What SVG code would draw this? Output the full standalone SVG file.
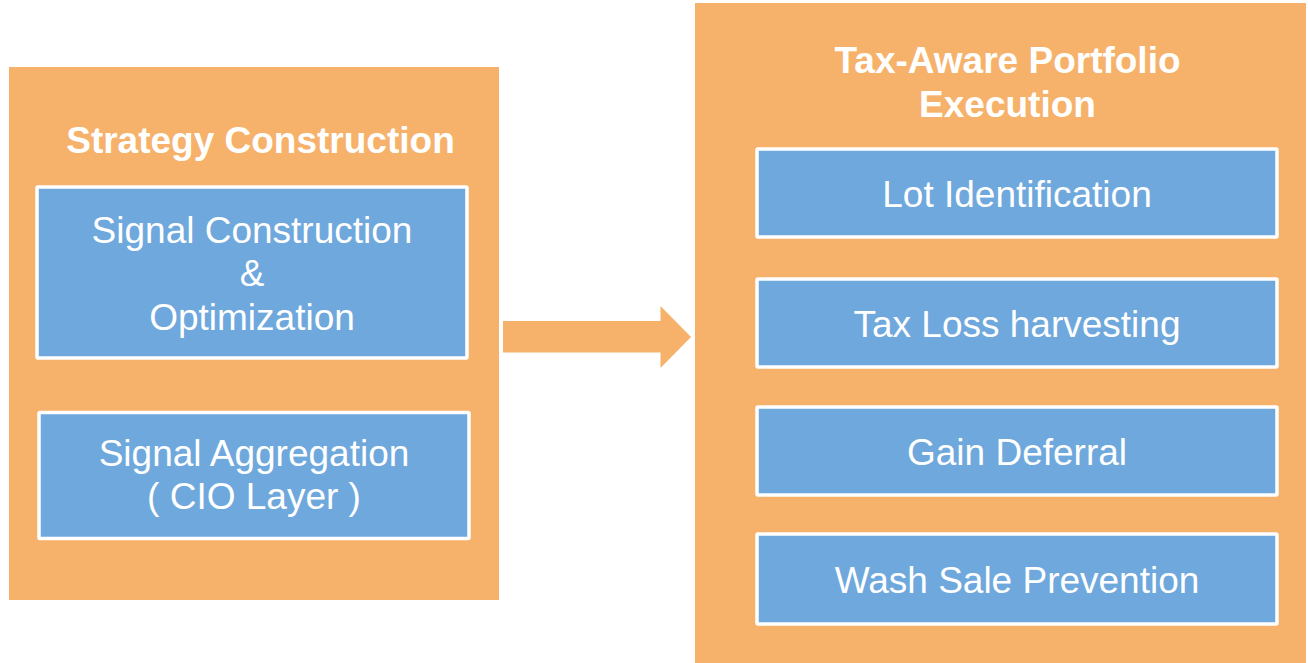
<svg xmlns="http://www.w3.org/2000/svg" width="1308" height="663" viewBox="0 0 1308 663">
  <style>
    .panel { fill: #F6B26B; }
    .box { fill: #6FA8DC; stroke: #FFFFFF; stroke-width: 3.5; }
    .title { font-family: "Liberation Sans", Arial, sans-serif; font-weight: bold; font-size: 37px; fill: #FFFFFF; text-anchor: middle; }
    .label { font-family: "Liberation Sans", Arial, sans-serif; font-size: 37px; fill: #FFFFFF; text-anchor: middle; }
    .arrow { fill: #F6B26B; }
  </style>
  <rect x="0" y="0" width="1308" height="663" fill="#FFFFFF"/>

  <g id="strategy-construction">
    <rect class="panel" x="9" y="67" width="490" height="533"/>
    <text class="title" x="260.5" y="153">Strategy Construction</text>
  </g>

  <g id="signal-construction">
    <rect class="box" x="37" y="187" width="430" height="171" rx="1"/>
    <text class="label" x="252" y="242.5">Signal Construction</text>
    <text class="label" x="252" y="286">&amp;</text>
    <text class="label" x="252" y="330">Optimization</text>
  </g>

  <g id="signal-aggregation">
    <rect class="box" x="39" y="412.5" width="430" height="126" rx="1"/>
    <text class="label" x="254" y="466">Signal Aggregation</text>
    <text class="label" x="254" y="509">( CIO Layer )</text>
  </g>

  <g id="tax-aware-execution">
    <rect class="panel" x="695" y="3" width="611" height="660"/>
    <text class="title" x="1007.5" y="72.5">Tax-Aware Portfolio</text>
    <text class="title" x="1007.5" y="116.5">Execution</text>
  </g>

  <g id="lot-identification">
    <rect class="box" x="757" y="149" width="520" height="88" rx="1"/>
    <text class="label" x="1017" y="206.5">Lot Identification</text>
  </g>

  <g id="tax-loss-harvesting">
    <rect class="box" x="757" y="279" width="520" height="88" rx="1"/>
    <text class="label" x="1017" y="336.5">Tax Loss harvesting</text>
  </g>

  <g id="gain-deferral">
    <rect class="box" x="757" y="407" width="520" height="88" rx="1"/>
    <text class="label" x="1017" y="464.5">Gain Deferral</text>
  </g>

  <g id="wash-sale-prevention">
    <rect class="box" x="757" y="534" width="520" height="90" rx="1"/>
    <text class="label" x="1017" y="592.5">Wash Sale Prevention</text>
  </g>

  <g id="connectors">
    <polygon class="arrow" points="503,321 660.5,321 660.5,306 691,337 660.5,368 660.5,352.5 503,352.5"/>
  </g>
</svg>
